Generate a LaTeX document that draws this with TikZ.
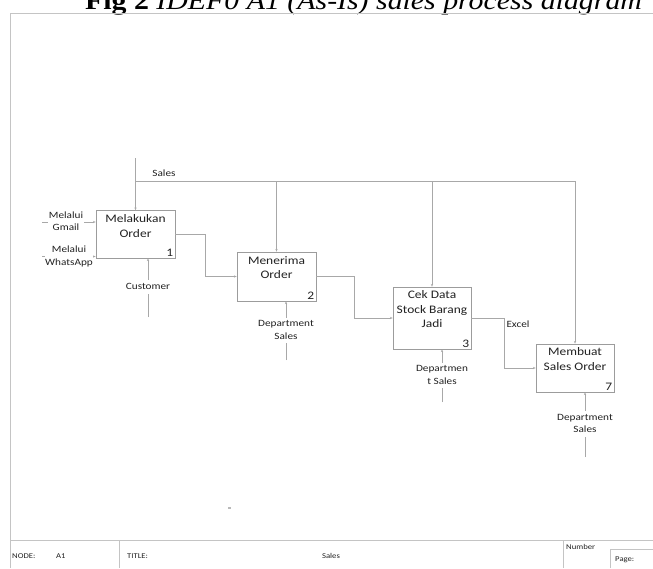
\documentclass[tikz,border=0pt]{standalone}
\usepackage{fontspec}
\setmainfont{Carlito}
\newfontfamily\titlefont{Liberation Serif}
\usepackage{graphicx}
\usetikzlibrary{arrows.meta}
\definecolor{linegray}{HTML}{A8A8A8}
\definecolor{boxgray}{HTML}{9C9C9C}
\definecolor{framegray}{HTML}{C4C4C4}
\definecolor{txt}{HTML}{222222}
\newcommand{\st}[1]{\scalebox{1.17}[1]{\begin{tabular}{@{}c@{}}#1\end{tabular}}}
\begin{document}
\begin{tikzpicture}[x=1pt,y=-1pt,
  procbox/.style={draw=boxgray,line width=0.8pt,rectangle,inner sep=0pt},
  boxtext/.style={anchor=north,inner sep=0pt,text=txt,font=\fontsize{11.5}{14.5}\selectfont},
  boxnum/.style={anchor=south east,inner sep=0pt,text=txt,font=\fontsize{11.5}{14}\selectfont},
  lbl/.style={fill=white,inner sep=0.5pt,text=txt,font=\fontsize{9.6}{12.3}\selectfont},
  conn/.style={draw=linegray,line width=0.8pt},
  arr/.style={conn,-{Stealth[length=2.6pt,width=2.2pt]}},
  frm/.style={draw=framegray,line width=1pt},
  tb/.style={inner sep=0pt,text=txt,font=\fontsize{7.4}{9}\selectfont}]
\clip (0,0) rectangle (653,568);
\fill[white] (0,0) rectangle (653,568);
% title
\node[anchor=base west,inner sep=0pt,font=\titlefont\fontsize{26}{29}\selectfont] (title) at (85,9.5)
  {\scalebox{1.148}[1]{\textbf{Fig 2} \textit{IDEF0 A1 (As-Is) sales process diagram}}};
% frame
\coordinate (ftl) at (10,13);
\coordinate (ftr) at (653,13);
\coordinate (fbl) at (10,568);
\draw[frm] (ftr) -- (ftl) -- (fbl);
\coordinate (tbl) at (10,540);
\coordinate (tbr) at (653,540);
\draw[frm] (tbl) -- (tbr);
\coordinate (d1a) at (119,540); \coordinate (d1b) at (119,568);
\coordinate (d2a) at (563,540); \coordinate (d2b) at (563,568);
\draw[frm] (d1a) -- (d1b);
\draw[frm] (d2a) -- (d2b);
\coordinate (pg1) at (610,568); \coordinate (pg2) at (610,549); \coordinate (pg3) at (653,549);
\draw[frm] (pg1) -- (pg2) -- (pg3);
\node[tb,anchor=base west] (tnode) at (12,558) {\scalebox{1.17}[1]{NODE:}};
\node[tb,anchor=base west] (tnodev) at (56,558) {\scalebox{1.17}[1]{A1}};
\node[tb,anchor=base west] (ttitle) at (127,558) {\scalebox{1.17}[1]{TITLE:}};
\node[tb,anchor=base] (ttitlev) at (331,558) {\scalebox{1.17}[1]{Sales}};
\node[tb,anchor=base west] (tnum) at (566,549) {\scalebox{1.17}[1]{Number}};
\node[tb,anchor=base west] (tpage) at (615,561) {\scalebox{1.17}[1]{Page:}};
% stray mark
\fill[gray!55] (228,506.5) rectangle (231,508.5);
% boxes
\node[procbox,minimum width=79pt,minimum height=47.5pt] (b1) at (135.5,234.25) {};
\node[procbox,minimum width=79pt,minimum height=49pt] (b2) at (276.5,276.5) {};
\node[procbox,minimum width=78pt,minimum height=62pt] (b3) at (432,318) {};
\node[procbox,minimum width=78pt,minimum height=48pt] (b4) at (575,368) {};
\node[boxtext] (t1) at ([yshift=-2.5pt]b1.north) {\st{Melakukan\\Order}};
\node[boxtext] (t2) at ([yshift=-2.5pt]b2.north) {\st{Menerima\\Order}};
\node[boxtext] (t3) at ([yshift=-2pt]b3.north) {\st{Cek Data\\Stock Barang\\Jadi}};
\node[boxtext] (t4) at ([yshift=-2pt]b4.north) {\st{Membuat\\Sales Order}};
\node[boxnum] (n1) at ([xshift=-2pt,yshift=2pt]b1.south east) {\scalebox{1.17}[1]{1}};
\node[boxnum] (n2) at ([xshift=-2pt,yshift=2pt]b2.south east) {\scalebox{1.17}[1]{2}};
\node[boxnum] (n3) at ([xshift=-2pt,yshift=2pt]b3.south east) {\scalebox{1.17}[1]{3}};
\node[boxnum] (n4) at ([xshift=-2pt,yshift=2pt]b4.south east) {\scalebox{1.17}[1]{7}};
% controls (Sales)
\coordinate (s0) at (135.5,158);
\coordinate (sj) at (135.5,181);
\draw[arr] (s0) -- (b1.north);
\draw[arr] (sj) -| (b2.north);
\draw[arr] (sj) -| (b3.north);
\draw[arr] (sj) -| (b4.north);
\node[lbl,fill=none] (lsales) at (164,174) {\st{Sales}};
% outputs
\draw[arr] (b1.east) -- ++(30,0) |- (b2.west);
\draw[arr] (b2.east) -- ++(38,0) |- (b3.west);
\draw[arr] (b3.east) -- ++(33,0) |- (b4.west);
\node[lbl,fill=none] (lexcel) at (518,325.5) {\st{Excel}};
% inputs
\coordinate (g0) at (42,222);
\coordinate (w0) at (42,256.5);
\draw[arr] (g0) -- (g0 -| b1.west);
\draw[arr] (w0) -- (w0 -| b1.west);
\node[lbl] (lgmail) at (66,222) {\st{Melalui\\Gmail}};
\node[lbl] (lwa) at (69,256.5) {\st{Melalui\\WhatsApp}};
% mechanisms
\coordinate (m1) at (148,317);
\coordinate (m2) at (286,360);
\coordinate (m3) at (442,402);
\coordinate (m4) at (585,457);
\draw[arr] (m1) -- (m1 |- b1.south);
\draw[arr] (m2) -- (m2 |- b2.south);
\draw[arr] (m3) -- (m3 |- b3.south);
\draw[arr] (m4) -- (m4 |- b4.south);
\node[lbl] (lm1) at (148,287) {\st{Customer}};
\node[lbl] (lm2) at (286,330.5) {\st{Department\\Sales}};
\node[lbl] (lm3) at (442,375.5) {\st{Departmen\\t Sales}};
\node[lbl] (lm4) at (585,424) {\st{Department\\Sales}};
\end{tikzpicture}
\end{document}
